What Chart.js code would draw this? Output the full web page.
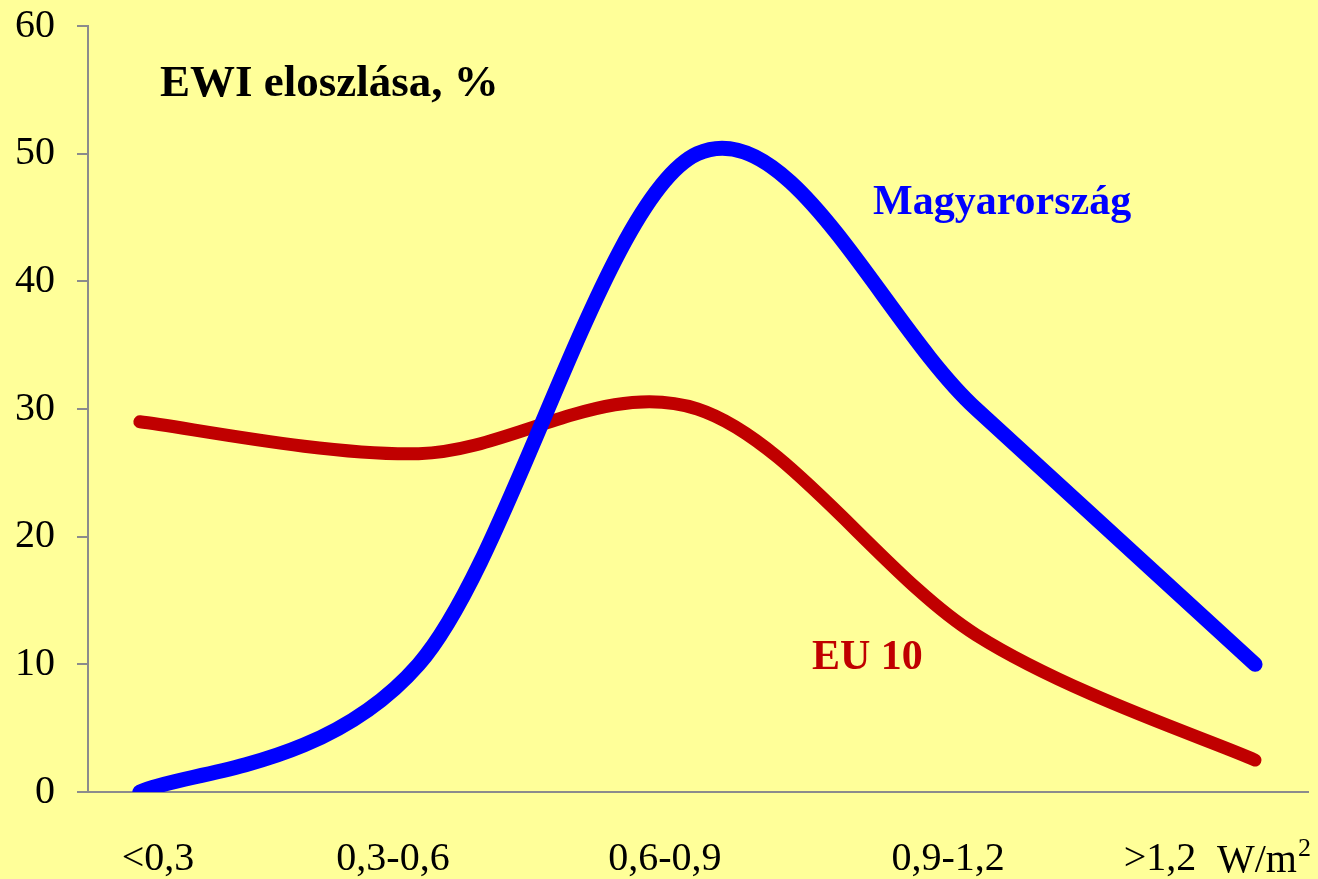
<!DOCTYPE html>
<html>
<head>
<meta charset="utf-8">
<script src="https://cdn.jsdelivr.net/npm/chart.js@4/dist/chart.umd.min.js"></script>
<style>
    body { margin: 0; background: #ffff99; }
    canvas { display: block; }
</style>
</head>
<body>
<canvas id="grafico" width="1318" height="879"></canvas>
<script>
// kategóriák (EWI sávok) és értékek, %
const kategoriak = ['<0,3', '0,3-0,6', '0,6-0,9', '0,9-1,2', '>1,2'];
const magyarorszag = [0, 10, 50, 30, 10];
const eu10 = [29, 26.5, 30, 12.3, 2.5];
const yTicks = [0, 10, 20, 30, 40, 50, 60];

// a tengelyfeliratok kicsit el vannak tolva a pontokhoz képest
const xTickAt = [0.065, 0.908, 1.883, 2.899, 3.659];

const betu = "'Liberation Serif', 'Times New Roman', serif";

// Excel-szerű simítás: Catmull-Rom érintők a Chart.js által kiszámolt pontokra
const simitas = {
    id: 'simitas',
    beforeDatasetDraw(chart, args) {
        const meta = args.meta;
        meta.dataset.updateControlPoints(chart.chartArea, 'x');
        const p = meta.data;
        const n = p.length;
        for (let i = 0; i < n; i++) {
            const elozo = p[Math.max(i - 1, 0)];
            const kov = p[Math.min(i + 1, n - 1)];
            const tx = (kov.x - elozo.x) / 6;
            const ty = (kov.y - elozo.y) / 6;
            p[i].cp1x = p[i].x - tx;
            p[i].cp1y = p[i].y - ty;
            p[i].cp2x = p[i].x + tx;
            p[i].cp2y = p[i].y + ty;
        }
    }
};

const feliratok = {
    id: 'feliratok',
    afterDraw(chart) {
        const ctx = chart.ctx;
        ctx.save();
        ctx.textBaseline = 'alphabetic';
        ctx.textAlign = 'left';

        ctx.fillStyle = '#000000';
        ctx.font = 'bold 45px ' + betu;
        ctx.fillText('EWI eloszlása, %', 160, 96);

        ctx.fillStyle = '#0000ff';
        ctx.font = 'bold 42px ' + betu;
        ctx.fillText('Magyarország', 873, 214);

        ctx.fillStyle = '#c00000';
        ctx.fillText('EU 10', 812, 669);

        // mértékegység az x tengely végén
        ctx.fillStyle = '#000000';
        ctx.font = '40px ' + betu;
        ctx.fillText('W/m', 1217, 872);
        const w = ctx.measureText('W/m').width;
        ctx.font = '26px ' + betu;
        ctx.fillText('2', 1217 + w + 1, 856);
        ctx.restore();
    }
};

const data = {
    datasets: [
        {
            label: 'Magyarország',
            data: magyarorszag.map((v, i) => ({ x: i, y: v })),
            borderColor: '#0000ff',
            borderWidth: 15,
            borderCapStyle: 'round',
            borderJoinStyle: 'round',
            pointRadius: 0,
            tension: 0.4,
            fill: false
        },
        {
            label: 'EU 10',
            data: eu10.map((v, i) => ({ x: i, y: v })),
            borderColor: '#c00000',
            borderWidth: 13,
            borderCapStyle: 'round',
            borderJoinStyle: 'round',
            pointRadius: 0,
            tension: 0.4,
            fill: false
        }
    ]
};

new Chart(document.getElementById('grafico'), {
    type: 'line',
    data: data,
    plugins: [simitas, feliratok],
    options: {
        responsive: false,
        animation: false,
        layout: { padding: { top: 26, right: 10, left: 0, bottom: 0 } },
        plugins: {
            legend: { display: false },
            tooltip: { enabled: false }
        },
        scales: {
            x: {
                type: 'linear',
                min: -0.186,
                max: 4.19,
                afterBuildTicks: scale => {
                    scale.ticks = xTickAt.map(v => ({ value: v }));
                },
                afterFit: scale => {
                    scale.height = 87;
                    scale.paddingLeft = 0;
                    scale.paddingRight = 0;
                },
                grid: { display: false, drawTicks: false },
                border: { display: true, color: '#8c8c8c', width: 2 },
                ticks: {
                    autoSkip: false,
                    maxRotation: 0,
                    padding: 43,
                    color: '#000000',
                    font: { family: betu, size: 40 },
                    callback: (v, i) => kategoriak[i]
                }
            },
            y: {
                min: 0,
                max: 60,
                afterBuildTicks: scale => {
                    scale.ticks = yTicks.map(v => ({ value: v }));
                },
                afterFit: scale => {
                    scale.width = 88;
                    scale.paddingTop = 0;
                    scale.paddingBottom = 0;
                },
                grid: {
                    drawOnChartArea: false,
                    drawTicks: true,
                    tickLength: 11,
                    color: '#8c8c8c',
                    lineWidth: 2
                },
                border: { display: true, color: '#8c8c8c', width: 2 },
                ticks: {
                    padding: 22,
                    color: '#000000',
                    font: { family: betu, size: 40 }
                }
            }
        }
    }
});
</script>
</body>
</html>
